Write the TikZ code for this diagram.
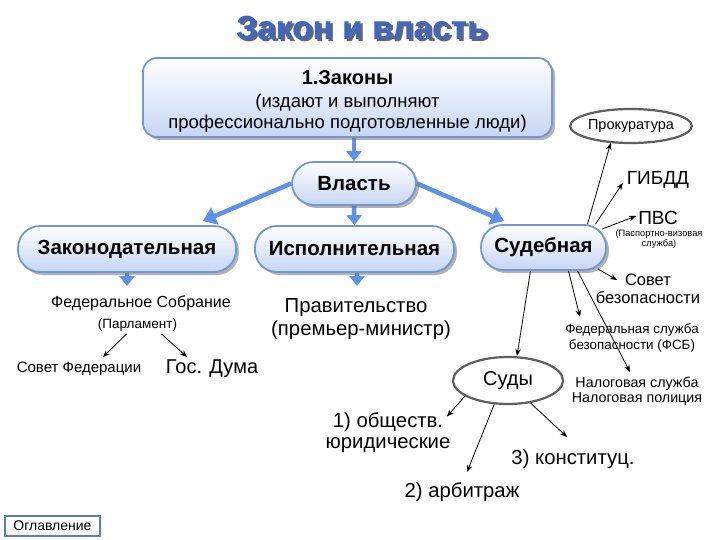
\documentclass[tikz,border=0pt]{standalone}
\usepackage{fontspec}
\setmainfont{Liberation Sans}
\usetikzlibrary{arrows.meta,shadows,shapes.geometric,backgrounds}
\definecolor{bord}{RGB}{115,150,212}
\definecolor{boxbot}{RGB}{198,214,244}
\definecolor{barrow}{RGB}{95,145,230}
\definecolor{titleblue}{RGB}{62,102,198}
\definecolor{ellgray}{RGB}{95,95,95}
\definecolor{oglbord}{RGB}{95,125,175}
\newcommand{\myfs}[1]{\fontsize{#1}{#1}\selectfont}
\newcommand{\myfsb}[2]{\fontsize{#1}{#2}\selectfont}
\tikzset{
  boxbase/.style={draw=bord, line width=1.8pt, top color=white, bottom color=boxbot,
    drop shadow={shadow xshift=3pt, shadow yshift=-3pt, fill=black!55, opacity=0.55}, inner sep=0},
  pill/.style={boxbase, rounded corners=22pt, font=\bfseries\myfs{20.5}},
  bigbox/.style={boxbase, rounded corners=14pt},
  barr/.style={draw=barrow, line width=4.5pt, -{Triangle[length=13pt,width=18pt]}},
  bstub/.style={draw=barrow, line width=4.5pt, -{Triangle[length=10pt,width=15pt]}},
  karr/.style={draw=black, line width=0.8pt, -{Stealth[length=7pt,width=5.5pt]}},
  lbl/.style={inner sep=0, align=center},
  oval/.style={ellipse, draw=ellgray, line width=2.2pt, fill=white, inner sep=0},
}
\begin{document}
\begin{tikzpicture}[x=1pt,y=-1pt]
\useasboundingbox (0,0) rectangle (720,540);

% title (with its shadow)
\node[font=\bfseries\myfs{33.5}, text=titleblue] (title) at (362,27.5)
  {\rlap{\hspace{2.5pt}\raisebox{-2.5pt}[0pt][0pt]{\textcolor{black!60}{Закон и власть}}}Закон и власть};

% big box
\node[bigbox, minimum width=409pt, minimum height=79pt] (zakony) at (347.5,97.5) {};
\node[lbl, font=\bfseries\myfs{20}] (zt1) at (347.5,78) {1.Законы};
\node[lbl, font=\myfs{18.5}] (zt2) at (347.5,103) {(издают и выполняют};
\node[lbl, font=\myfs{18.5}] (zt3) at (347.5,124) {профессионально подготовленные люди)};

% power boxes
\node[pill, minimum width=124pt, minimum height=43pt] (vlast) at (354,183.5) {Власть};
\node[pill, minimum width=218pt, minimum height=46pt] (zak) at (127,249) {Законодательная};
\node[pill, minimum width=199pt, minimum height=46pt] (isp) at (354.5,249) {Исполнительная};
\node[pill, minimum width=125pt, minimum height=45pt] (sud) at (543.5,247.5) {Судебная};

\coordinate (zakdown) at (127,286);
\coordinate (ispdown) at (357,286);

% legislative
\node[lbl, font=\myfs{16}] (fed) at (141,303) {Федеральное Собрание};
\node[lbl, font=\myfs{13.5}] (parl) at (137.5,325) {(Парламент)};
\node[lbl, font=\myfs{15}] (sovfed) at (79,369) {Совет Федерации};
\node[lbl, font=\myfs{20}] (duma) at (212,369) {Гос. Дума};

% executive
\node[lbl, font=\myfs{20.3}] (prav) at (356,308) {Правительство};
\node[lbl, font=\myfs{20.3}] (prem) at (361,330) {(премьер-министр)};

% judicial side
\node[oval, minimum width=118pt, minimum height=34pt, font=\myfs{14.5}] (prok) at (631,126) {Прокуратура};
\node[lbl, font=\myfs{19}] (gibdd) at (658,180) {ГИБДД};
\node[lbl, font=\myfs{19}] (pvs) at (658,218) {ПВС};
\node[lbl, font=\myfsb{9.3}{10.5}] (pvs2) at (659,239) {(Паспортно-визовая\\служба)};
\node[lbl, font=\myfsb{16.5}{18}] (sovbez) at (648,289) {Совет\\безопасности};
\node[lbl, font=\myfsb{13.4}{16}] (fsb) at (632,338) {Федеральная служба\\безопасности (ФСБ)};
\node[lbl, font=\myfsb{14.3}{14.5}] (nalog) at (637,391) {Налоговая служба\\Налоговая полиция};

% courts
\node[oval, minimum width=110pt, minimum height=47pt, font=\myfs{20}] (sudy) at (508,380.5) {Суды};
\node[lbl, font=\myfsb{20.3}{21.5}] (ob) at (388,432.5) {1) обществ.\\юридические};
\node[lbl, font=\myfs{20.3}] (arb) at (462,492) {2) арбитраж};
\node[lbl, font=\myfs{20.3}] (kon) at (573,459) {3) конституц.};

% contents button
\node[draw=oglbord, line width=1.2pt, fill=white, minimum width=95pt, minimum height=20pt, inner sep=0, font=\myfs{14}] (ogl) at (52.5,526) {Оглавление};

\begin{scope}[on background layer]
\fill[white] (0,0) rectangle (720,540);
\draw[bstub] (zakony.south -| vlast.north) -- (vlast.north);
\draw[bstub] (vlast.south) -- (isp.north);
\draw[barr] (vlast.west) -- ([xshift=-34pt,yshift=4pt]zak.north east);
\draw[barr] (vlast.east) -- ([xshift=24pt,yshift=3pt]sud.north west);
\draw[bstub] (zak.south) -- (zakdown);
\draw[bstub] (isp.south -| ispdown) -- (ispdown);
\end{scope}

% black arrows
\draw[karr] ([xshift=-11pt,yshift=-9pt]parl.center) -- ([xshift=24pt,yshift=12pt]sovfed.center);
\draw[karr] ([xshift=24pt,yshift=-9pt]parl.center) -- ([xshift=-25pt,yshift=12pt]duma.center);

\draw[karr] ([xshift=44pt]sud.north) -- (prok.220);
\draw[karr] ([xshift=52pt]sud.north) -- ([xshift=-4pt,yshift=-3pt]gibdd.west);
\draw[karr] ([xshift=-5pt,yshift=-5pt]sud.north east) -- ([xshift=-2pt,yshift=2pt]pvs.west);
\draw[karr] ([xshift=-9pt,yshift=2pt]sud.south east) -- ([xshift=-31pt,yshift=9pt]sovbez.center);
\draw[karr] ([xshift=25pt]sud.south) -- ([xshift=-52pt,yshift=21pt]fsb.center);
\draw[karr] ([xshift=34pt]sud.south) -- ([xshift=-7pt,yshift=19pt]nalog.center);
\draw[karr] ([xshift=-13pt]sud.south) -- ([xshift=9pt]sudy.north);

\draw[karr] (sudy.200) -- ([xshift=59pt,yshift=16pt]ob.center);
\draw[karr] (sudy.240) -- ([xshift=5pt,yshift=20pt]arb.center);
\draw[karr] (sudy.315) -- ([xshift=-6pt,yshift=22pt]kon.center);
\end{tikzpicture}
\end{document}
